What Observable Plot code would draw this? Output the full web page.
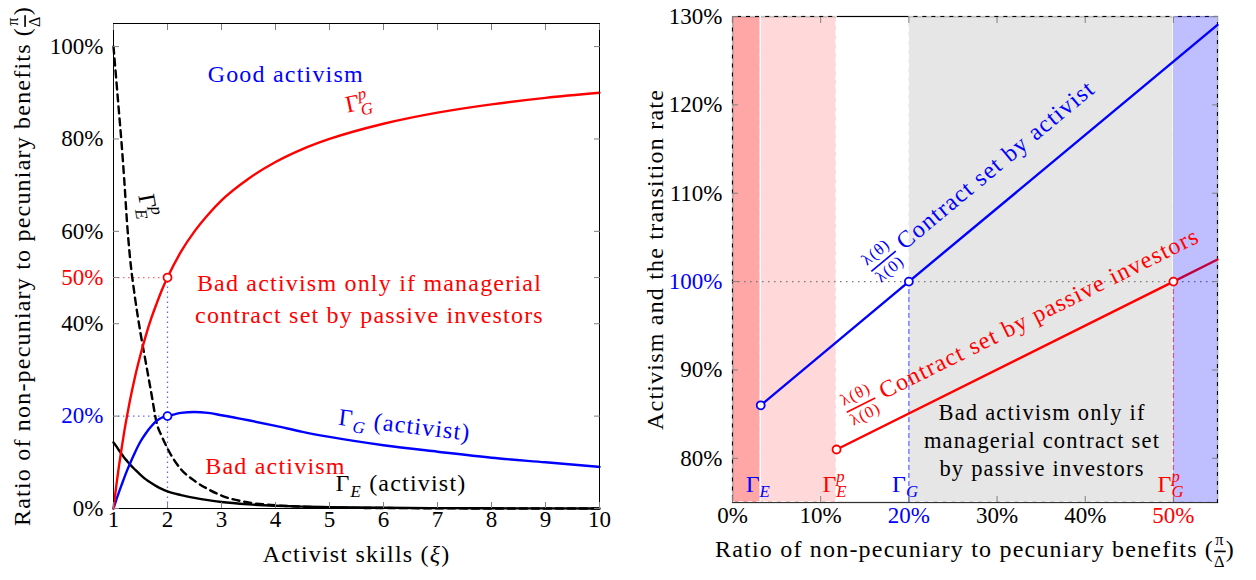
<!DOCTYPE html>
<html><head><meta charset="utf-8">
<script src="https://cdn.jsdelivr.net/npm/d3@7"></script>
<script src="https://cdn.jsdelivr.net/npm/@observablehq/plot@0.6"></script>
<style>
body{margin:0;background:#fff;}
#wrap{position:relative;width:1256px;height:580px;overflow:hidden;background:#fff;}
#wrap svg{position:absolute;top:0;overflow:visible;}
</style></head><body><div id="wrap"></div>
<script>
// ---------- LEFT PANEL DATA (values in %) ----------
const leftXi      = [1,1.05,1.1,1.15,1.2,1.25,1.3,1.4,1.5,1.6,1.7,1.8,1.9,2,2.25,2.5,2.75,3,3.5,4,4.5,5,6,7,8,9,10];
const gammaGpass  = [0,4.8,9.1,13,16.7,20,23.1,28.6,33.3,37.5,41.2,44.4,47.4,50,55.6,60,63.6,66.7,71.4,75,77.8,80,83.3,85.7,87.5,88.9,90];
const gammaEpass  = [100,93,86,79,71,62,55,45.5,38,31.5,25,18.5,15.5,13,8.5,6,4.2,2.8,1.3,0.7,0.4,0.2,0.1,0.05,0,0,0];
const gammaGact   = [0,1.8,3.5,5.1,6.7,8.2,9.6,12.2,14.5,16.3,17.8,19,19.7,20,20.7,20.9,20.7,20.2,19.1,17.9,16.6,15.5,13.7,12.3,11,10,9];
const gammaEact   = [14.3,13.5,12.6,11.8,11,10.3,9.6,8.4,7.3,6.3,5.5,4.8,4.2,3.7,2.9,2.3,1.8,1.4,0.9,0.6,0.4,0.3,0.15,0.08,0.04,0.02,0.01];
const leftXDomain = [1,10];
const leftYDomain = [0,105];
const leftXTicks  = [1,2,3,4,5,6,7,8,9,10];
const leftYTicks  = [0,20,40,50,60,80,100];
const leftYTickColors = ["black","blue","black","red","black","black","black"];
const leftPointX = [2,2];
const leftPointY = [50,20];
const leftPointColor = ["red","blue"];

// ---------- RIGHT PANEL DATA (values in %) ----------
const rightXDomain = [0,55];
const rightYDomain = [75,130];
const rightXTicks = [0,10,20,30,40,50];
const rightXTickColors = ["black","black","blue","black","black","red"];
const rightYTicks = [80,90,100,110,120,130];
const rightYTickColors = ["black","black","blue","black","black","black"];
const regionX1 = [0,3.2,20];
const regionX2 = [3.2,11.8,50];
const regionFill = ["#ffa6a6","#ffd9d9","#e6e6e6"];
const overlayX1 = [50], overlayX2 = [55];
const activistX = [3.2,20,55];
const activistY = [86,100,129.05];
const passiveX  = [11.8,50,55];
const passiveY  = [81,100,102.5];
const rightPointX = [3.2,20,11.8,50];
const rightPointY = [86,100,81,100];
const rightPointColor = ["blue","blue","red","red"];

const FONT = "Liberation Serif";
const T = (data, o) => Plot.text(data, {fontFamily: FONT, ...o});

// ---------- rich text (sub/superscripts, fractions) ----------
const RICH = {
  "Γ_E^p": [{t:"Γ"},{sup:"p",sub:"E"}],
  "Γ_G^p": [{t:"Γ"},{sup:"p",sub:"G"}],
  "Γ_E": [{t:"Γ"},{t:"E",size:.7,shift:.24,it:true}],
  "Γ_G": [{t:"Γ"},{t:"G",size:.7,shift:.24,it:true}],
  "Γ_G (activist)": [{t:"Γ"},{t:"G",size:.7,shift:.24,it:true},{t:" (activist)"}],
  "Γ_E (activist)": [{t:"Γ"},{t:"E",size:.7,shift:.24,it:true},{t:" (activist)"}],
  "Activist skills (ξ)": [{t:"Activist skills ("},{t:"ξ",it:true},{t:")"}],
  "Ratio of non-pecuniary to pecuniary benefits (π/Δ)": [{t:"Ratio of non-pecuniary to pecuniary benefits ("},{num:"π",den:"Δ"},{t:")"}],
  "λ(θ)/λ(0) Contract set by activist": [{num:"λ(θ)",den:"λ(0)"},{t:" Contract set by activist"}],
  "λ(θ)/λ(0) Contract set by passive investors": [{num:"λ(θ)",den:"λ(0)"},{t:" Contract set by passive investors"}]
};
function enrich(svg){
  // letter spacing for annotation texts (not tick labels, not short symbols)
  d3.select(svg).selectAll("text").each(function(){
    const s = this.textContent;
    if (s.length > 6 && !/^\d/.test(s)) this.setAttribute("letter-spacing", "1.2px");
  });
  d3.select(svg).selectAll("text").each(function(){
    const spec = RICH[this.textContent];
    if(!spec) return;
    const S = parseFloat(getComputedStyle(this).fontSize);
    const el = d3.select(this);
    el.text(null);
    let cur = 0, carry = 0;
    const add = (t,o={})=>{
      const {size=1,shift=0,it=false,deco=null} = o;
      const ts = el.append("tspan").text(t).attr("font-family", FONT);
      const target = shift*S;
      if (target !== cur) ts.attr("dy", target-cur);
      cur = target;
      if(size!==1) ts.attr("font-size", size*S);
      if(it) ts.attr("font-style","italic");
      if(deco) ts.attr("text-decoration",deco);
      if(carry) ts.attr("dx",carry);
      carry = 0;
      return ts;
    };
    for(const p of spec){
      if(p.t!==undefined) add(p.t,p);
      else if(p.sup!==undefined){
        const a = add(p.sup,{size:.7,shift:-.42,it:true});
        const wa = a.node().getComputedTextLength();
        const b = add(p.sub,{size:.7,shift:.24,it:true});
        b.attr("dx",-wa);
        const wb = b.node().getComputedTextLength();
        carry = Math.max(0,wa-wb);
      } else if(p.num!==undefined){
        const a = add(p.num,{size:.68,shift:-.5});
        const wa = a.node().getComputedTextLength();
        const b = add(p.den,{size:.68,shift:.42,deco:"overline"});
        const wb = b.node().getComputedTextLength();
        const W = Math.max(wa,wb);
        a.attr("dx",(W-wa)/2);
        b.attr("dx",-wa-(W-wa)/2+(W-wb)/2);
        carry = (W-wb)/2;
      }
    }
  });
}

// ---------- LEFT PLOT ----------
const leftData = leftXi.map((x,i)=>({x, gp:gammaGpass[i], ep:gammaEpass[i], g:gammaGact[i], e:gammaEact[i]}));
const leftPts = leftPointX.map((x,i)=>({x, y:leftPointY[i], c:leftPointColor[i]}));
const leftGuideH = leftPts.map(p=>({y:p.y, x1:leftXDomain[0], x2:p.x, c:p.c}));
const leftGuideV = [{x:leftPointX[0], y1:leftYDomain[0], y2:leftPointY[0]}];
const leftYLab = leftYTicks.map((v,i)=>({v, c:leftYTickColors[i]}));
const leftLabelsMid = [
  {x:4.19, y:94.6, t:"Good activism", c:"blue", r:0},
  {x:1.685, y:65.6, t:"Γ_E^p", c:"black", r:80},
  {x:5.74, y:45.8, t:"Bad activism only if managerial\ncontract set by passive investors", c:"red", r:0},
  {x:4.0, y:9.7, t:"Bad activism", c:"red", r:0}
];
const leftLabelsStart = [
  {x:5.30, y:87.3, t:"Γ_G^p", c:"red", r:-12},
  {x:5.17, y:19.8, t:"Γ_G (activist)", c:"blue", r:7},
  {x:5.11, y:5.46, t:"Γ_E (activist)", c:"black", r:0}
];
const tickStyle = {stroke:"#7f7f7f", tickFormat:()=>"", label:null, tickSize:6};

const left = Plot.plot({
  width:625, height:580, marginLeft:113, marginRight:26, marginTop:23, marginBottom:72,
  x:{domain:leftXDomain}, y:{domain:leftYDomain},
  color:{type:"identity"},
  style:{fontFamily:FONT, fontSize:"23px", background:"transparent", overflow:"visible"},
  marks:[
    Plot.ruleY(leftGuideH, {y:"y", x1:"x1", x2:"x2", stroke:"c", strokeDasharray:"1.5,3.5", strokeOpacity:0.6, strokeWidth:1.3}),
    Plot.ruleX(leftGuideV, {x:"x", y1:"y1", y2:"y2", stroke:"blue", strokeDasharray:"1.5,3.5", strokeOpacity:0.6, strokeWidth:1.3}),
    Plot.line(leftData, {x:"x", y:"e", stroke:"black", strokeWidth:2.4, curve:"monotone-x"}),
    Plot.line(leftData, {x:"x", y:"ep", stroke:"black", strokeWidth:2.4, strokeDasharray:"7,5", curve:"monotone-x"}),
    Plot.line(leftData, {x:"x", y:"g", stroke:"blue", strokeWidth:2.4, curve:"monotone-x"}),
    Plot.line(leftData, {x:"x", y:"gp", stroke:"red", strokeWidth:2.4, curve:"monotone-x"}),
    Plot.frame({stroke:"black", strokeWidth:1}),
    Plot.axisX(leftXTicks, {...tickStyle, anchor:"bottom", dy:-6}),
    Plot.axisX(leftXTicks, {...tickStyle, anchor:"top", dy:6}),
    Plot.axisY(leftYTicks, {...tickStyle, anchor:"left", dx:6}),
    Plot.axisY(leftYTicks, {...tickStyle, anchor:"right", dx:-6}),
    Plot.dot(leftPts, {x:"x", y:"y", r:4, stroke:"c", fill:"white", strokeWidth:1.8}),
    T(leftXTicks, {x:d=>d, text:d=>String(d), frameAnchor:"bottom", dy:18, fontSize:23}),
    T(leftYLab, {y:"v", text:d=>d.v+"%", fill:"c", frameAnchor:"left", textAnchor:"end", dx:-10, fontSize:23}),
    T(leftLabelsMid, {x:"x", y:"y", text:"t", fill:"c", textAnchor:"middle", rotate:"r", fontSize:24, lineHeight:1.33}),
    T(leftLabelsStart, {x:"x", y:"y", text:"t", fill:"c", textAnchor:"start", rotate:"r", fontSize:24}),
    T(["Activist skills (ξ)"], {text:d=>d, frameAnchor:"bottom", textAnchor:"middle", dy:53, fontSize:24}),
    T(["Ratio of non-pecuniary to pecuniary benefits (π/Δ)"], {text:d=>d, frameAnchor:"left", textAnchor:"middle", rotate:-90, dx:-91, fontSize:24})
  ]
});

// ---------- RIGHT PLOT ----------
const regions = regionX1.map((x1,i)=>({x1, x2:regionX2[i], fill:regionFill[i]}));
const overlay = overlayX1.map((x1,i)=>({x1, x2:overlayX2[i]}));
const activist = activistX.map((x,i)=>({x, y:activistY[i]}));
const passive = passiveX.map((x,i)=>({x, y:passiveY[i]}));
const rightPts = rightPointX.map((x,i)=>({x, y:rightPointY[i], c:rightPointColor[i]}));
const vGuides = [{x:rightPointX[1], y1:rightYDomain[0], y2:rightPointY[1], c:"blue"},{x:rightPointX[3], y1:rightYDomain[0], y2:rightPointY[3], c:"red"}];
const rightXLab = rightXTicks.map((v,i)=>({v, c:rightXTickColors[i]}));
const rightYLab = rightYTicks.map((v,i)=>({v, c:rightYTickColors[i]}));
const gammaLabels = [
  {x:1.5, t:"Γ_E", c:"blue"},
  {x:10.2, t:"Γ_E^p", c:"red"},
  {x:18.1, t:"Γ_G", c:"blue"},
  {x:48.2, t:"Γ_G^p", c:"red"}
];
const rotLabels = [
  {x:16.1, y:100.7, t:"λ(θ)/λ(0) Contract set by activist", c:"blue", r:-39.7},
  {x:13.2, y:84.7, t:"λ(θ)/λ(0) Contract set by passive investors", c:"red", r:-26.5}
];

const right = Plot.plot({
  width:631, height:580, marginLeft:107, marginRight:39, marginTop:16, marginBottom:78,
  x:{domain:rightXDomain}, y:{domain:rightYDomain},
  color:{type:"identity"},
  style:{fontFamily:FONT, fontSize:"23px", background:"transparent", overflow:"visible"},
  marks:[
    Plot.rect(regions, {x1:"x1", x2:"x2", fill:"fill"}),
    Plot.frame({stroke:"black", strokeWidth:1.2}),
    Plot.rect(regions.concat(overlay), {x1:"x1", x2:"x2", fill:"none", stroke:"white", strokeDasharray:"5,4", strokeWidth:1.4}),
    Plot.ruleY([rightYDomain[0]], {stroke:"#333", strokeWidth:1.2}),
    Plot.ruleY([100], {stroke:"#777", strokeDasharray:"1.5,4.5", strokeWidth:1.4}),
    Plot.ruleX(vGuides, {x:"x", y1:"y1", y2:"y2", stroke:"c", strokeDasharray:"5,3", strokeOpacity:0.55, strokeWidth:1.3}),
    Plot.line(activist, {x:"x", y:"y", stroke:"blue", strokeWidth:2.4}),
    Plot.line(passive, {x:"x", y:"y", stroke:"red", strokeWidth:2.4}),
    Plot.rect(overlay, {x1:"x1", x2:"x2", fill:"blue", fillOpacity:0.25}),
    Plot.axisX(rightXTicks, {...tickStyle, anchor:"bottom", dy:-6}),
    Plot.axisX(rightXTicks, {...tickStyle, anchor:"top", dy:6}),
    Plot.axisY(rightYTicks, {...tickStyle, anchor:"left", dx:6}),
    Plot.axisY(rightYTicks, {...tickStyle, anchor:"right", dx:-6}),
    Plot.dot(rightPts, {x:"x", y:"y", r:4, stroke:"c", fill:"white", strokeWidth:1.8}),
    T(rightXLab, {x:"v", text:d=>d.v+"%", fill:"c", frameAnchor:"bottom", dy:20, fontSize:23}),
    T(rightYLab, {y:"v", text:d=>d.v+"%", fill:"c", frameAnchor:"left", textAnchor:"end", dx:-10, fontSize:23}),
    T(gammaLabels, {x:"x", y:77.1, text:"t", fill:"c", textAnchor:"start", fontSize:24}),
    T(rotLabels, {x:"x", y:"y", text:"t", fill:"c", rotate:"r", textAnchor:"start", lineAnchor:"bottom", fontSize:24}),
    T(["Bad activism only if\nmanagerial contract set\nby passive investors"], {text:d=>d, x:35.1, y:82.2, textAnchor:"middle", fontSize:22.5, lineHeight:1.25}),
    T(["Activism and the transition rate"], {text:d=>d, frameAnchor:"left", textAnchor:"middle", rotate:-90, dx:-77, fontSize:24}),
    T(["Ratio of non-pecuniary to pecuniary benefits (π/Δ)"], {text:d=>d, frameAnchor:"bottom", textAnchor:"middle", dy:54, fontSize:24})
  ]
});

const wrap = document.getElementById("wrap");
left.style.left = "0px";
right.style.left = "625px";
wrap.appendChild(left);
wrap.appendChild(right);
enrich(left);
enrich(right);
</script>
</body></html>
